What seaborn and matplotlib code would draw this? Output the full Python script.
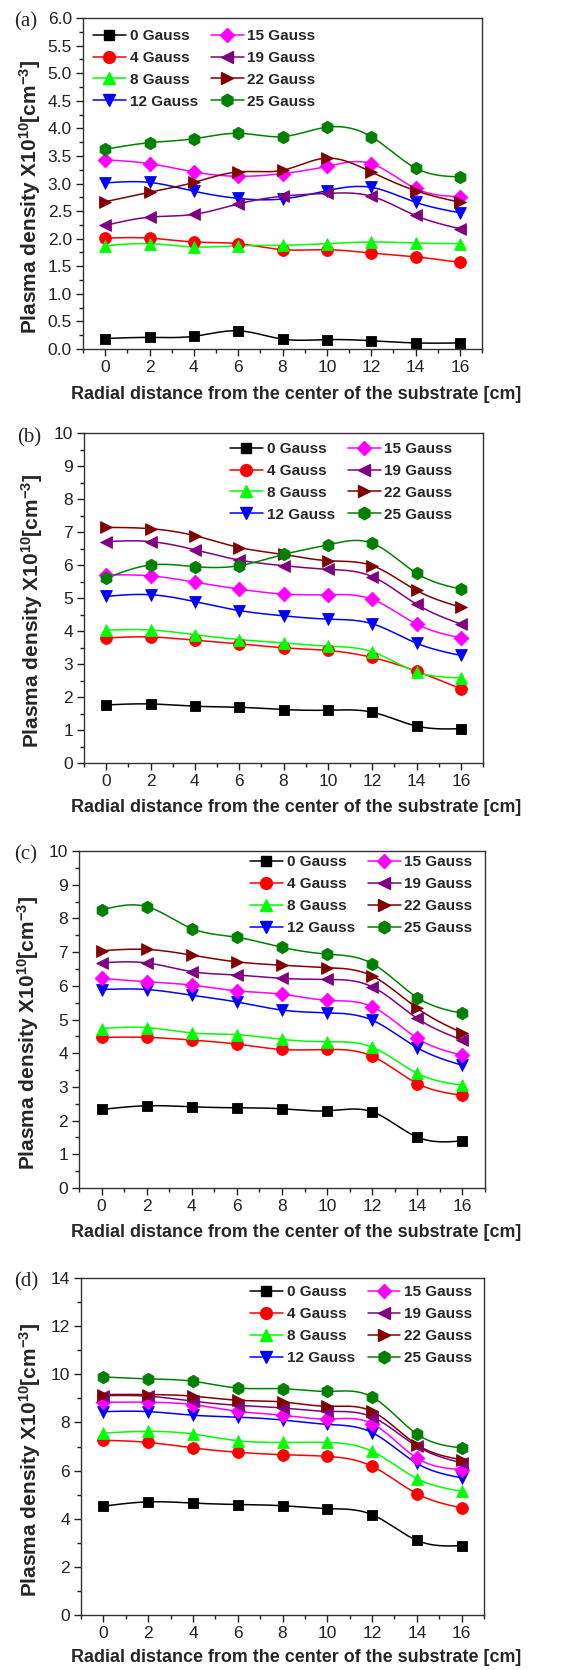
import numpy as np
import matplotlib
matplotlib.use("Agg")
import matplotlib.pyplot as plt
from matplotlib.lines import Line2D
from matplotlib.ticker import MultipleLocator
import seaborn as sns

# ---------------- data ----------------
x_cm = [0, 2, 4, 6, 8, 10, 12, 14, 16]
series_labels = ["0 Gauss", "4 Gauss", "8 Gauss", "12 Gauss",
                 "15 Gauss", "19 Gauss", "22 Gauss", "25 Gauss"]

panel_a = [
    [0.19, 0.21, 0.23, 0.33, 0.18, 0.17, 0.15, 0.11, 0.11],
    [2.01, 2.01, 1.94, 1.91, 1.80, 1.80, 1.74, 1.67, 1.57],
    [1.87, 1.91, 1.85, 1.87, 1.88, 1.91, 1.94, 1.92, 1.91],
    [3.01, 3.02, 2.86, 2.73, 2.72, 2.87, 2.93, 2.66, 2.47],
    [3.43, 3.36, 3.21, 3.13, 3.18, 3.31, 3.36, 2.91, 2.76],
    [2.24, 2.39, 2.44, 2.63, 2.77, 2.82, 2.77, 2.42, 2.18],
    [2.67, 2.84, 3.02, 3.21, 3.24, 3.46, 3.21, 2.87, 2.66],
    [3.62, 3.74, 3.81, 3.91, 3.85, 4.02, 3.85, 3.28, 3.12],
]
panel_b = [
    [1.76, 1.79, 1.72, 1.69, 1.62, 1.60, 1.54, 1.12, 1.04],
    [3.79, 3.82, 3.72, 3.61, 3.49, 3.41, 3.20, 2.78, 2.25],
    [4.03, 4.03, 3.89, 3.74, 3.64, 3.54, 3.37, 2.76, 2.58],
    [5.05, 5.10, 4.89, 4.62, 4.46, 4.36, 4.22, 3.63, 3.26],
    [5.70, 5.67, 5.48, 5.27, 5.12, 5.10, 4.96, 4.21, 3.79],
    [6.71, 6.71, 6.46, 6.15, 5.98, 5.87, 5.65, 4.81, 4.21],
    [7.14, 7.10, 6.89, 6.53, 6.32, 6.13, 5.98, 5.23, 4.72],
    [5.60, 6.00, 5.95, 5.98, 6.32, 6.61, 6.66, 5.75, 5.27],
]
panel_c = [
    [2.33, 2.44, 2.41, 2.38, 2.35, 2.29, 2.26, 1.51, 1.40],
    [4.47, 4.47, 4.39, 4.27, 4.11, 4.11, 3.91, 3.10, 2.75],
    [4.73, 4.76, 4.60, 4.55, 4.41, 4.34, 4.18, 3.40, 3.05],
    [5.89, 5.89, 5.72, 5.52, 5.28, 5.20, 4.98, 4.16, 3.64],
    [6.22, 6.12, 6.02, 5.85, 5.75, 5.57, 5.38, 4.44, 3.94],
    [6.68, 6.68, 6.42, 6.32, 6.22, 6.19, 5.97, 5.03, 4.39],
    [7.04, 7.08, 6.91, 6.71, 6.61, 6.54, 6.29, 5.33, 4.60],
    [8.25, 8.35, 7.70, 7.44, 7.14, 6.94, 6.66, 5.65, 5.18],
]
panel_d = [
    [4.52, 4.70, 4.65, 4.59, 4.54, 4.42, 4.17, 3.10, 2.88],
    [7.26, 7.17, 6.94, 6.76, 6.66, 6.59, 6.18, 5.04, 4.45],
    [7.56, 7.63, 7.52, 7.24, 7.17, 7.17, 6.80, 5.67, 5.14],
    [8.45, 8.45, 8.30, 8.22, 8.10, 7.92, 7.58, 6.30, 5.70],
    [8.84, 8.84, 8.74, 8.46, 8.30, 8.14, 7.95, 6.52, 6.04],
    [9.11, 9.09, 8.88, 8.71, 8.60, 8.46, 8.23, 7.01, 6.32],
    [9.16, 9.16, 9.09, 8.92, 8.85, 8.67, 8.46, 7.08, 6.45],
    [9.89, 9.81, 9.71, 9.43, 9.40, 9.29, 9.06, 7.52, 6.94],
]

colors = ["#000000", "#ff0000", "#00ff00", "#0000ff",
          "#ff00ff", "#800080", "#800000", "#008000"]
markers = ["s", "o", "^", "v", "D", "<", ">", "h"]
msizes = [7.5, 8.5, 8.5, 8.5, 7.5, 8.5, 8.5, 9.0]

# ---------------- style ----------------
sns.set_style("ticks")
plt.rcParams["font.family"] = ["Liberation Sans", "DejaVu Sans"]
plt.rcParams["mathtext.fontset"] = "custom"
plt.rcParams["mathtext.rm"] = "Liberation Sans"
plt.rcParams["mathtext.bf"] = "Liberation Sans:bold"
plt.rcParams["mathtext.default"] = "bf"


def natural_spline(x, y, n=300):
    x = np.asarray(x, float)
    y = np.asarray(y, float)
    k = len(x)
    h = np.diff(x)
    A = np.zeros((k, k))
    r = np.zeros(k)
    A[0, 0] = 1.0
    A[-1, -1] = 1.0
    for i in range(1, k - 1):
        A[i, i - 1] = h[i - 1]
        A[i, i] = 2 * (h[i - 1] + h[i])
        A[i, i + 1] = h[i]
        r[i] = 3 * ((y[i + 1] - y[i]) / h[i] - (y[i] - y[i - 1]) / h[i - 1])
    c = np.linalg.solve(A, r)
    b = np.zeros(k - 1)
    d = np.zeros(k - 1)
    for i in range(k - 1):
        b[i] = (y[i + 1] - y[i]) / h[i] - h[i] * (2 * c[i] + c[i + 1]) / 3
        d[i] = (c[i + 1] - c[i]) / (3 * h[i])
    xs = np.linspace(x[0], x[-1], n)
    idx = np.clip(np.searchsorted(x, xs, side="right") - 1, 0, k - 2)
    t = xs - x[idx]
    ys = y[idx] + b[idx] * t + c[idx] * t ** 2 + d[idx] * t ** 3
    return xs, ys


W, H = 586, 1670
fig = plt.figure(figsize=(W / 100, H / 100), dpi=100)

# (left, right, top, bottom) in pixels
boxes = [(83, 482, 18, 349), (84, 483, 433, 763),
         (79, 485, 851, 1188), (81, 484, 1278, 1615)]
panels = [panel_a, panel_b, panel_c, panel_d]
ylims = [(0, 6), (0, 10), (0, 10), (0, 14)]
ymajor = [0.5, 1, 1, 2]
yfmt = ["{:.1f}", "{:.0f}", "{:.0f}", "{:.0f}"]
tags = ["(a)", "(b)", "(c)", "(d)"]
tag_pos = [(26, 22), (29, 438), (26, 855), (26, 1282)]
leg_pos = [(0.025, 0.967), (0.366, 0.973), (0.421, 0.988), (0.419, 0.978)]
xlab_off = [37, 36, 36, 34]
ylab_x = [43, 45, 41, 43]

for p, (l, r, t, b) in enumerate(boxes):
    ax = fig.add_axes([l / W, 1 - b / H, (r - l) / W, (b - t) / H])
    data = panels[p]
    for i, yv in enumerate(data):
        xs, ys = natural_spline(x_cm, yv)
        sns.lineplot(x=xs, y=ys, color=colors[i], lw=1.1, ax=ax,
                     legend=False, sort=False, zorder=2)
    for i, yv in enumerate(data):
        sns.scatterplot(x=x_cm, y=yv, color=colors[i], marker=markers[i],
                        s=msizes[i] ** 2, edgecolor=colors[i], linewidth=0.6,
                        ax=ax, legend=False, zorder=3)
    ax.set_xlim(-1, 17)
    ax.set_ylim(*ylims[p])
    ax.xaxis.set_major_locator(MultipleLocator(2))
    ax.xaxis.set_minor_locator(MultipleLocator(1))
    ax.yaxis.set_major_locator(MultipleLocator(ymajor[p]))
    ax.yaxis.set_minor_locator(MultipleLocator(ymajor[p] / 2))
    yt = np.arange(ylims[p][0], ylims[p][1] + 1e-9, ymajor[p])
    ax.set_yticks(yt)
    ax.set_yticklabels([yfmt[p].format(v) for v in yt])
    ax.tick_params(which="major", direction="out", length=5, width=1,
                   labelsize=12.5, pad=3, colors="#222222")
    ax.tick_params(which="minor", direction="out", length=3, width=1,
                   colors="#222222")
    ax.tick_params(top=False, right=False, which="both")
    for s in ax.spines.values():
        s.set_visible(True)
        s.set_linewidth(1.0)
        s.set_color("#333333")
    ax.set_xlabel("Radial distance from the center of the substrate [cm]",
                  fontsize=12.9, fontweight="bold")
    ax.set_ylabel(r"Plasma density X10$^{10}$[cm$^{-3}$]",
                  fontsize=15, fontweight="bold")
    hpx = b - t
    wpx = r - l
    ax.xaxis.set_label_coords((296 - l) / wpx, -xlab_off[p] / hpx)
    ax.yaxis.set_label_coords(-(l - ylab_x[p]) / wpx, 0.46)

    handles = [Line2D([0], [0], color=colors[i], marker=markers[i],
                      ms=msizes[i], lw=1.1) for i in range(8)]
    ax.legend(handles, series_labels,
              ncol=2, loc="upper left", bbox_to_anchor=leg_pos[p],
              frameon=False, borderpad=0, borderaxespad=0,
              handlelength=2.15, handletextpad=0.25, columnspacing=0.85,
              labelspacing=0.52,
              prop={"weight": "bold", "size": 11})
    fig.text(tag_pos[p][0] / W, 1 - tag_pos[p][1] / H, tags[p],
             fontsize=15, family="Liberation Serif",
             ha="center", va="center")

fig.savefig("out.png", dpi=100)
